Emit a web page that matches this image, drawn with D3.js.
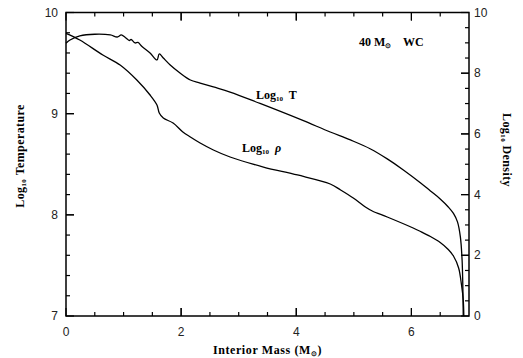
<!DOCTYPE html>
<html>
<head>
<meta charset="utf-8">
<script src="https://cdn.jsdelivr.net/npm/d3@7"></script>
<style>
  body { margin: 0; background: #fff; }
  svg { display: block; }
  .tick-label { font-family: "Liberation Sans", Arial, sans-serif; font-size: 12px; fill: #222; }
  .title { font-family: "Liberation Serif", "Times New Roman", serif; font-weight: bold; font-size: 12px; fill: #000; }
</style>
</head>
<body>
<div id="chart"></div>
<script>
// Log10 T vs interior mass
const massT = [0, 0.07, 0.24, 0.5, 0.77, 0.89, 0.96, 1.03, 1.1, 1.13, 1.2, 1.25, 1.32, 1.46, 1.58, 1.62, 1.69, 1.81, 1.98, 2.16, 2.33, 2.56, 2.85, 3.37, 4.07, 4.59, 4.94, 5.29, 5.58, 5.86, 6.16, 6.33, 6.5, 6.64, 6.73, 6.8, 6.85, 6.88, 6.894, 6.9];
const logT = [9.696, 9.728, 9.768, 9.785, 9.778, 9.758, 9.778, 9.753, 9.723, 9.733, 9.699, 9.704, 9.664, 9.6, 9.531, 9.59, 9.55, 9.481, 9.402, 9.333, 9.303, 9.264, 9.214, 9.101, 8.943, 8.819, 8.74, 8.651, 8.553, 8.444, 8.315, 8.236, 8.157, 8.078, 8.014, 7.93, 7.782, 7.554, 7.258, 7.0];

// Log10 density vs interior mass
const massRho = [0, 0.24, 0.64, 0.94, 1.23, 1.46, 1.58, 1.62, 1.69, 1.86, 2.03, 2.16, 2.33, 2.56, 2.85, 3.43, 4.02, 4.59, 4.77, 4.99, 5.2, 5.32, 5.58, 6.03, 6.16, 6.33, 6.5, 6.64, 6.73, 6.82, 6.87, 6.9, 6.91];
const logRho = [9.315, 9.094, 8.6, 8.27, 7.776, 7.282, 6.952, 6.689, 6.524, 6.359, 6.063, 5.898, 5.7, 5.47, 5.239, 4.909, 4.646, 4.349, 4.152, 3.888, 3.591, 3.46, 3.262, 2.9, 2.784, 2.619, 2.422, 2.191, 1.977, 1.582, 1.021, 0.527, 0];

const xMajor = [0, 2, 4, 6];
const xMinor = d3.range(0.5, 7, 0.5);
const tMajor = [7, 8, 9, 10];
const tMinor = d3.range(7.2, 10, 0.2);
const rMajor = [0, 2, 4, 6, 8, 10];
const rMinor = d3.range(0.5, 10, 0.5);

const width = 523, height = 358;
const mLeft = 66, mRight = 469, mTop = 12.5, mBottom = 316;

const svg = d3.select("#chart").append("svg")
    .attr("width", width)
    .attr("height", height);

const x = d3.scaleLinear().domain([0, 7]).range([mLeft, mRight]);
const yT = d3.scaleLinear().domain([7, 10]).range([mBottom, mTop]);
const yR = d3.scaleLinear().domain([0, 10]).range([mBottom, mTop]);

// frame
svg.append("rect")
    .attr("x", mLeft).attr("y", mTop)
    .attr("width", mRight - mLeft).attr("height", mBottom - mTop)
    .attr("fill", "none").attr("stroke", "#000").attr("stroke-width", 1.5);

const ticks = svg.append("g").attr("stroke", "#000").attr("stroke-width", 1.2);

// bottom + top ticks
xMinor.concat(xMajor).forEach(v => {
    const len = xMajor.includes(v) ? 8 : 4;
    ticks.append("line").attr("x1", x(v)).attr("x2", x(v)).attr("y1", mBottom).attr("y2", mBottom - len);
    ticks.append("line").attr("x1", x(v)).attr("x2", x(v)).attr("y1", mTop).attr("y2", mTop + len);
});
// left ticks
tMinor.concat(tMajor).forEach(v => {
    const len = tMajor.includes(v) ? 8 : 4;
    ticks.append("line").attr("x1", mLeft).attr("x2", mLeft + len).attr("y1", yT(v)).attr("y2", yT(v));
});
// right ticks
rMinor.concat(rMajor).forEach(v => {
    const len = rMajor.includes(v) ? 8 : 4;
    ticks.append("line").attr("x1", mRight).attr("x2", mRight - len).attr("y1", yR(v)).attr("y2", yR(v));
});

svg.selectAll(".xl").data(xMajor).join("text")
    .attr("class", "tick-label")
    .attr("x", d => x(d)).attr("y", 336)
    .attr("text-anchor", "middle")
    .text(d => d);

svg.selectAll(".tl").data(tMajor).join("text")
    .attr("class", "tick-label")
    .attr("x", 58).attr("y", d => yT(d) + 4)
    .attr("text-anchor", "end")
    .text(d => d);

svg.selectAll(".rl").data(rMajor).join("text")
    .attr("class", "tick-label")
    .attr("x", 474).attr("y", d => yR(d) + 4)
    .text(d => d);

// curves - smooth through the read points
const line = d3.line().x(d => x(d[0])).y(d => d[1]).curve(d3.curveCatmullRom.alpha(0.5));
svg.append("path")
    .datum(massT.map((m, i) => [m, yT(logT[i])]))
    .attr("d", line)
    .attr("fill", "none").attr("stroke", "#000").attr("stroke-width", 1.3);
svg.append("path")
    .datum(massRho.map((m, i) => [m, yR(logRho[i])]))
    .attr("d", line)
    .attr("fill", "none").attr("stroke", "#000").attr("stroke-width", 1.3);

// text with "Log10" subscript
function logLabel(sel, rest, italic) {
    sel.append("tspan").text("Log");
    sel.append("tspan").attr("font-size", "7px").attr("dy", 2).text("10");
    const t = sel.append("tspan").attr("dy", -2).text("\u00a0" + rest);
    if (italic) t.attr("font-style", "italic");
}

svg.append("text").attr("class", "title")
    .attr("x", 256).attr("y", 99)
    .call(logLabel, " T", false);
svg.append("text").attr("class", "title")
    .attr("x", 242).attr("y", 152)
    .call(logLabel, " \u03c1", true);

const lbl = svg.append("text").attr("class", "title")
    .attr("x", 359).attr("y", 46);
lbl.append("tspan").text("40 M");
lbl.append("tspan").attr("font-size", "7px").attr("dy", 2).text("\u2299");
lbl.append("tspan").attr("dy", -2).text("\u00a0\u00a0\u00a0 WC");

const xt = svg.append("text").attr("class", "title")
    .attr("x", (mLeft + mRight) / 2).attr("y", 354)
    .attr("text-anchor", "middle")
    .attr("letter-spacing", "0.6px");
xt.append("tspan").text("Interior Mass (M");
xt.append("tspan").attr("font-size", "7px").attr("dy", 2).text("\u2299");
xt.append("tspan").attr("dy", -2).text(")");

svg.append("text").attr("class", "title")
    .attr("transform", "translate(24,156) rotate(-90)")
    .attr("text-anchor", "middle")
    .attr("letter-spacing", "0.4px")
    .call(logLabel, "Temperature", false);

svg.append("text").attr("class", "title")
    .attr("transform", "translate(503,150) rotate(90)")
    .attr("text-anchor", "middle")
    .attr("letter-spacing", "0.4px")
    .call(logLabel, "Density", false);
</script>
</body>
</html>
